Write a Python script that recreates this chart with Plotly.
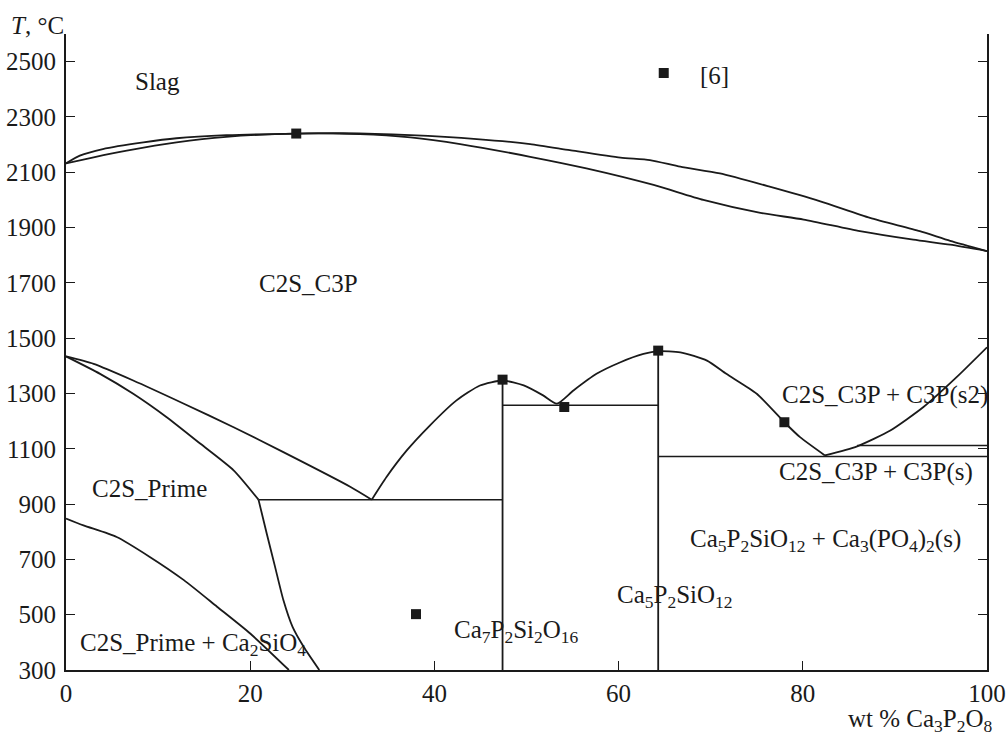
import plotly.graph_objects as go

# ---- data ----
liq_top_x = [0, 1.5, 4.0, 8.4, 12.0, 17.4, 25.0, 30.1, 37.4, 44.6, 50.4, 54.7, 60.2, 63.4, 66.7, 71.0, 76.4, 81.9, 87.3, 92.7, 96.0, 100]
liq_top_y = [2132, 2160, 2184, 2208, 2223, 2234, 2240, 2241, 2234, 2220, 2202, 2180, 2153, 2144, 2120, 2096, 2048, 1995, 1935, 1887, 1852, 1815]

sol_top_x = [0, 3.0, 6.6, 12.0, 17.4, 25.0, 31.9, 37.4, 42.8, 50.4, 56.5, 63.8, 69.2, 75.4, 80.1, 86.2, 92.0, 96.0, 100]
sol_top_y = [2132, 2154, 2178, 2208, 2228, 2240, 2238, 2226, 2202, 2156, 2114, 2054, 2000, 1953, 1929, 1887, 1856, 1838, 1815]

curveA_x = [0, 3.0, 7.3, 12.8, 18.2, 23.6, 30.9, 33.2]
curveA_y = [1434, 1407, 1347, 1263, 1178, 1088, 962, 916]

curveB_x = [0, 3.7, 7.3, 10.9, 14.6, 18.2, 20.9]
curveB_y = [1434, 1371, 1299, 1215, 1118, 1022, 916]

curveC_x = [20.9, 21.8, 22.7, 23.6, 24.6, 25.8, 27.5]
curveC_y = [916, 793, 673, 553, 456, 384, 300]

curveD_x = [0, 1.9, 5.5, 9.1, 12.8, 16.4, 20.0, 24.2]
curveD_y = [848, 823, 781, 709, 625, 529, 432, 300]

liq_mid_x = [33.2, 34.8, 37.0, 39.5, 42.4, 44.95, 47.4, 49.7, 51.8, 53.3, 55.1, 57.6, 60.2, 62.7, 64.3, 66.7, 69.6, 71.7, 75.0, 78.0, 79.7, 82.4]
liq_mid_y = [916, 998, 1094, 1184, 1275, 1329, 1347, 1329, 1293, 1263, 1311, 1371, 1413, 1443, 1453, 1449, 1419, 1371, 1299, 1196, 1142, 1076]

liq_right_x = [82.4, 85.9, 89.5, 93.1, 96.7, 100]
liq_right_y = [1076, 1109, 1166, 1251, 1359, 1467]

# invariant lines (x0, x1, y) and vertical lines (x, y0, y1)
h_lines = [(20.9, 47.4, 916), (47.4, 64.3, 1257), (64.3, 100, 1072), (85.9, 100, 1112)]
v_lines = [(47.4, 300, 1347), (64.3, 300, 1453)]

exp_x = [25.0, 47.4, 54.1, 64.3, 78.0, 38.0, 64.9]
exp_y = [2240, 1350, 1251, 1455, 1196, 502, 2459]

labels = [
    ("Slag", 7.3, 2430),
    ("[6]", 68.6, 2450),
    ("C2S_C3P", 20.7, 1697),
    ("C2S_Prime", 2.6, 957),
    ("C2S_Prime + Ca<sub>2</sub>SiO<sub>4</sub>", 1.3, 392),
    ("Ca<sub>7</sub>P<sub>2</sub>Si<sub>2</sub>O<sub>16</sub>", 41.9, 438),
    ("Ca<sub>5</sub>P<sub>2</sub>SiO<sub>12</sub>", 59.6, 565),
    ("Ca<sub>5</sub>P<sub>2</sub>SiO<sub>12</sub> + Ca<sub>3</sub>(PO<sub>4</sub>)<sub>2</sub>(s)", 67.5, 769),
    ("C2S_C3P + C3P(s)", 77.2, 1016),
    ("C2S_C3P + C3P(s2)", 77.5, 1293),
]

x_ticks = [0, 20, 40, 60, 80, 100]
y_ticks = [300, 500, 700, 900, 1100, 1300, 1500, 1700, 1900, 2100, 2300, 2500]

FONT = "Times New Roman, Liberation Serif, serif"
FS = 25
INK = "#1a1a1a"
LINE = dict(color=INK, width=1.8)

fig = go.Figure()
for xs, ys in [(liq_top_x, liq_top_y), (sol_top_x, sol_top_y), (curveA_x, curveA_y),
               (curveB_x, curveB_y), (curveC_x, curveC_y), (curveD_x, curveD_y),
               (liq_mid_x, liq_mid_y), (liq_right_x, liq_right_y)]:
    fig.add_trace(go.Scatter(x=xs, y=ys, mode="lines", line=dict(LINE, shape="spline", smoothing=0.6),
                             showlegend=False, hoverinfo="skip"))
for x0, x1, y in h_lines:
    fig.add_trace(go.Scatter(x=[x0, x1], y=[y, y], mode="lines", line=dict(color=INK, width=1.5),
                             showlegend=False, hoverinfo="skip"))
for x, y0, y1 in v_lines:
    fig.add_trace(go.Scatter(x=[x, x], y=[y0, y1], mode="lines", line=dict(color=INK, width=1.8),
                             showlegend=False, hoverinfo="skip"))
fig.add_trace(go.Scatter(x=exp_x, y=exp_y, mode="markers",
                         marker=dict(symbol="square", size=10, color=INK),
                         showlegend=False, cliponaxis=False))

for text, x, y in labels:
    fig.add_annotation(x=x, y=y, xref="x", yref="y", text=text, showarrow=False,
                       xanchor="left", yanchor="middle", font=dict(family=FONT, size=FS, color=INK))

fig.add_annotation(xref="paper", yref="paper", x=-0.031, y=1.014, text="<i>T</i>, °C", showarrow=False,
                   xanchor="center", yanchor="middle", font=dict(family=FONT, size=FS, color=INK))
fig.add_annotation(xref="paper", yref="paper", x=1.009, y=-0.079,
                   text="wt % Ca<sub>3</sub>P<sub>2</sub>O<sub>8</sub>", showarrow=False,
                   xanchor="right", yanchor="middle", font=dict(family=FONT, size=FS, color=INK))

fig.update_layout(
    width=1007, height=735,
    margin=dict(l=66, r=20, t=34, b=65),
    plot_bgcolor="white", paper_bgcolor="white",
    font=dict(family=FONT, size=FS, color=INK),
    xaxis=dict(range=[0, 100], tickvals=x_ticks, ticks="inside", ticklen=9, tickwidth=1.3,
               tickcolor=INK, showline=True, linecolor=INK, linewidth=1.8,
               showgrid=False, zeroline=False, mirror=False, automargin=False,
               tickfont=dict(family=FONT, size=FS, color=INK)),
    yaxis=dict(range=[300, 2600], tickvals=y_ticks, ticks="inside", ticklen=9, tickwidth=1.3,
               tickcolor=INK, showline=True, linecolor=INK, linewidth=1.8,
               showgrid=False, zeroline=False, mirror="ticks", automargin=False,
               ticklabelstandoff=3,
               tickfont=dict(family=FONT, size=FS, color=INK)),
)

fig.write_html("out.html")
